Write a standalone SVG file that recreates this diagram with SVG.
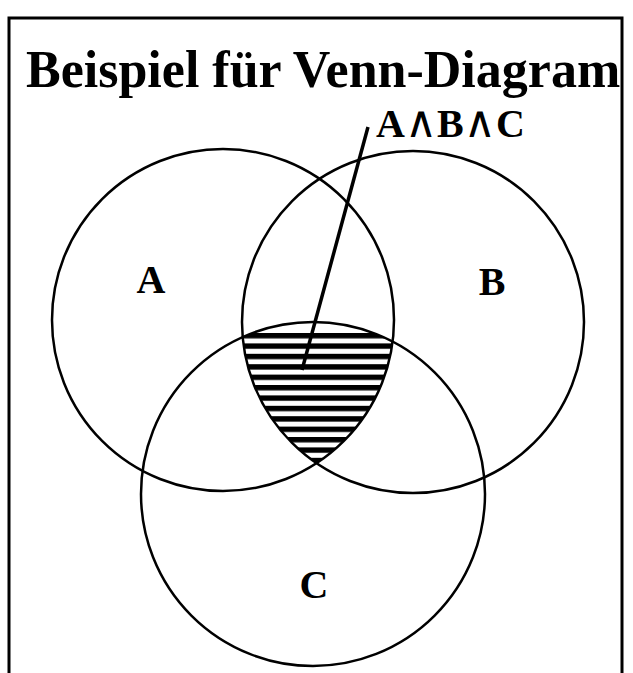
<svg xmlns="http://www.w3.org/2000/svg" width="633" height="673" viewBox="0 0 633 673">
  <style>
    .set { fill: none; stroke: #000; stroke-width: 2.5; }
    .lbl { font-family: "Liberation Serif", "Times New Roman", serif; font-weight: bold; fill: #000; }
    .big { font-size: 40px; text-anchor: middle; }
    .op { font-family: "DejaVu Sans", sans-serif; font-weight: normal; font-size: 44px; }
  </style>
  <defs>
    <pattern id="hatch" patternUnits="userSpaceOnUse" x="0" y="333" width="10" height="10.4">
      <rect x="0" y="0" width="10" height="5.4" fill="#000"/>
    </pattern>
    <clipPath id="cA"><circle cx="223" cy="320" r="171"/></clipPath>
    <clipPath id="cB"><circle cx="413" cy="322" r="171"/></clipPath>
    <clipPath id="cC"><circle cx="313" cy="494" r="172"/></clipPath>
    <clipPath id="inner"><rect x="10" y="19" width="611" height="660"/></clipPath>
  </defs>
  <rect width="633" height="673" fill="#fff"/>
  <g id="title" clip-path="url(#inner)">
    <text class="lbl" x="26" y="87" font-size="52">Beispiel für Venn-Diagram</text>
  </g>
  <rect id="frame" x="9" y="18" width="613" height="700" fill="none" stroke="#000" stroke-width="3"/>
  <g id="intersection">
    <g clip-path="url(#cA)">
      <g clip-path="url(#cB)">
        <rect clip-path="url(#cC)" x="130" y="332" width="380" height="135" fill="url(#hatch)"/>
      </g>
    </g>
  </g>
  <g id="setA">
    <circle class="set" cx="223" cy="320" r="171"/>
    <text class="lbl big" x="151" y="293">A</text>
  </g>
  <g id="setB">
    <circle class="set" cx="413" cy="322" r="171"/>
    <text class="lbl big" x="492" y="295">B</text>
  </g>
  <g id="setC">
    <circle class="set" cx="313" cy="494" r="172"/>
    <text class="lbl big" x="314" y="598">C</text>
  </g>
  <g id="label">
    <text class="lbl" x="376" y="137" font-size="40">A<tspan class="op">∧</tspan>B<tspan class="op">∧</tspan>C</text>
  </g>
  <g id="connectors">
    <line x1="368" y1="127" x2="302" y2="370" stroke="#000" stroke-width="3.5"/>
  </g>
</svg>
